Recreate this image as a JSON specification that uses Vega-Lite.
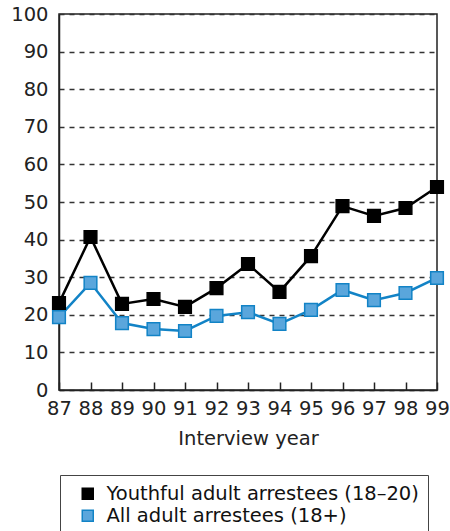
{
  "$schema": "https://vega.github.io/schema/vega-lite/v6.json",
  "autosize": {"type": "none"},
  "width": 378,
  "height": 376,
  "padding": {"left": 59, "top": 14, "right": 13, "bottom": 141},
  "background": "white",
  "config": {
    "font": "DejaVu Sans",
    "view": {"stroke": "#222", "strokeWidth": 1.5}
  },
  "data": {
    "values": [
      {"year": 87, "series": "Youthful adult arrestees (18–20)", "value": 23.1},
      {"year": 88, "series": "Youthful adult arrestees (18–20)", "value": 40.7},
      {"year": 89, "series": "Youthful adult arrestees (18–20)", "value": 22.9},
      {"year": 90, "series": "Youthful adult arrestees (18–20)", "value": 24.2},
      {"year": 91, "series": "Youthful adult arrestees (18–20)", "value": 22.1},
      {"year": 92, "series": "Youthful adult arrestees (18–20)", "value": 27.1},
      {"year": 93, "series": "Youthful adult arrestees (18–20)", "value": 33.5},
      {"year": 94, "series": "Youthful adult arrestees (18–20)", "value": 26.1},
      {"year": 95, "series": "Youthful adult arrestees (18–20)", "value": 35.6},
      {"year": 96, "series": "Youthful adult arrestees (18–20)", "value": 48.9},
      {"year": 97, "series": "Youthful adult arrestees (18–20)", "value": 46.3},
      {"year": 98, "series": "Youthful adult arrestees (18–20)", "value": 48.4},
      {"year": 99, "series": "Youthful adult arrestees (18–20)", "value": 54.0},
      {"year": 87, "series": "All adult arrestees (18+)", "value": 19.4},
      {"year": 88, "series": "All adult arrestees (18+)", "value": 28.5},
      {"year": 89, "series": "All adult arrestees (18+)", "value": 17.8},
      {"year": 90, "series": "All adult arrestees (18+)", "value": 16.2},
      {"year": 91, "series": "All adult arrestees (18+)", "value": 15.7},
      {"year": 92, "series": "All adult arrestees (18+)", "value": 19.7},
      {"year": 93, "series": "All adult arrestees (18+)", "value": 20.7},
      {"year": 94, "series": "All adult arrestees (18+)", "value": 17.6},
      {"year": 95, "series": "All adult arrestees (18+)", "value": 21.3},
      {"year": 96, "series": "All adult arrestees (18+)", "value": 26.6},
      {"year": 97, "series": "All adult arrestees (18+)", "value": 23.9},
      {"year": 98, "series": "All adult arrestees (18+)", "value": 25.8},
      {"year": 99, "series": "All adult arrestees (18+)", "value": 29.8}
    ]
  },
  "encoding": {
    "x": {
      "field": "year", "type": "quantitative",
      "scale": {"domain": [87, 99], "nice": false, "zero": false},
      "axis": {
        "title": "Interview year", "values": [87,88,89,90,91,92,93,94,95,96,97,98,99],
        "format": "d", "grid": false, "domain": true, "domainColor": "#222", "domainWidth": 1.5,
        "ticks": true, "tickSize": -8, "tickColor": "#222", "tickWidth": 1.5,
        "labelFontSize": 19.5, "labelColor": "#222", "labelPadding": 17, "labelFlush": false,
        "titleFontSize": 19.5, "titleFontWeight": "normal", "titleColor": "#222", "titlePadding": 12
      }
    },
    "y": {
      "field": "value", "type": "quantitative",
      "scale": {"domain": [0, 100], "nice": false},
      "axis": {
        "title": null, "values": [0,10,20,30,40,50,60,70,80,90,100],
        "grid": true, "gridDash": [5, 5], "gridColor": "#333", "gridWidth": 1.3,
        "domain": true, "domainColor": "#222", "domainWidth": 1.5,
        "ticks": false, "labelFontSize": 19.5, "labelColor": "#222", "labelPadding": 11
      }
    }
  },
  "layer": [
    {
      "mark": {"type": "line", "strokeWidth": 2.5},
      "encoding": {
        "stroke": {
          "field": "series", "type": "nominal",
          "scale": {"domain": ["Youthful adult arrestees (18–20)", "All adult arrestees (18+)"], "range": ["#000000", "#1283c6"]},
          "legend": {
            "title": null, "orient": "none", "legendX": 1, "legendY": 461,
            "strokeColor": "#444", "padding": 9, "symbolOffset": 9,
            "symbolType": "square", "symbolSize": 121, "symbolStrokeWidth": 1.5,
            "labelFontSize": 19.5, "labelColor": "#111", "labelOffset": 9, "rowPadding": 1, "labelLimit": 400
          }
        }
      }
    },
    {
      "mark": {"type": "point", "shape": "square", "filled": true, "size": 160, "strokeWidth": 1.5, "opacity": 1},
      "encoding": {
        "fill": {
          "field": "series", "type": "nominal",
          "scale": {"domain": ["Youthful adult arrestees (18–20)", "All adult arrestees (18+)"], "range": ["#000000", "#5aa6dc"]},
          "legend": {
            "title": null, "orient": "none", "legendX": 1, "legendY": 461,
            "strokeColor": "#444", "padding": 9, "symbolOffset": 9,
            "symbolType": "square", "symbolSize": 121, "symbolStrokeWidth": 1.5,
            "labelFontSize": 19.5, "labelColor": "#111", "labelOffset": 9, "rowPadding": 1, "labelLimit": 400
          }
        },
        "stroke": {
          "field": "series", "type": "nominal"
        }
      }
    }
  ]
}
